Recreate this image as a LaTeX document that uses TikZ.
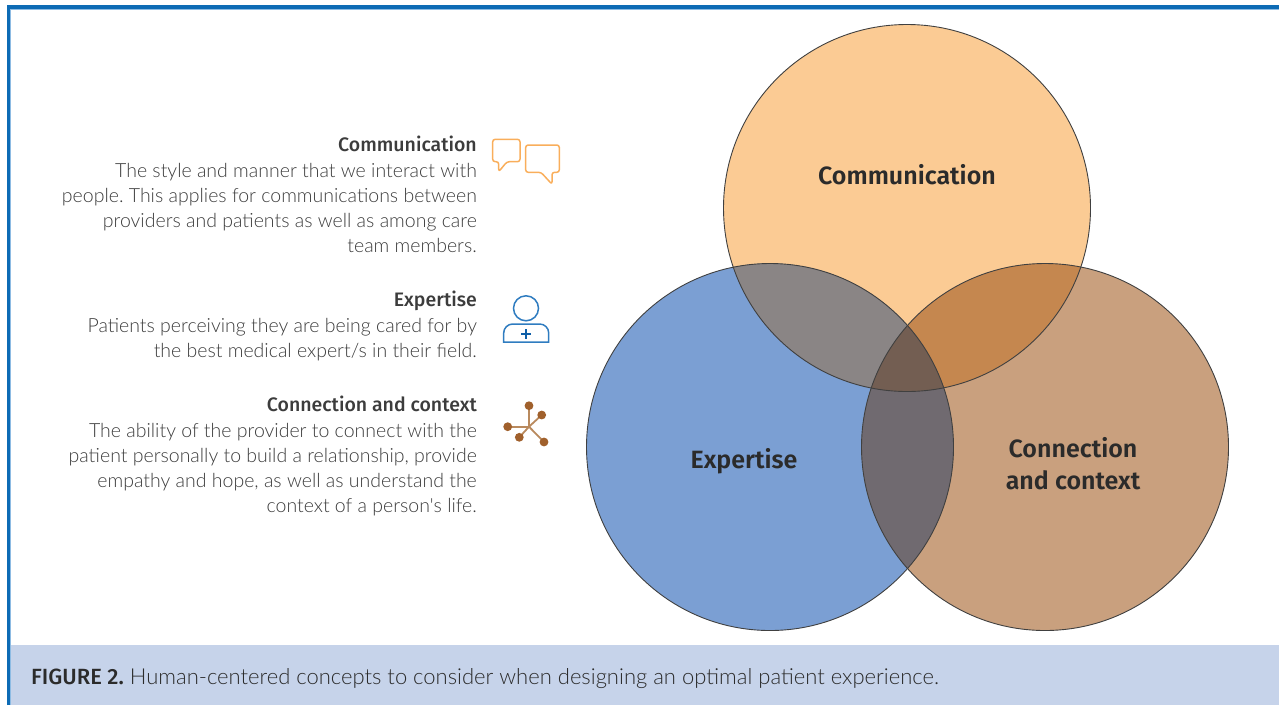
\documentclass[tikz,border=0pt]{standalone}
\usepackage{fontspec}
\setmainfont{Lato}
\newfontfamily\lightfont{Lato Light}
\newfontfamily\dinfont{Fira Sans Medium}
\newfontfamily\dinsemi{Fira Sans SemiBold}
\usetikzlibrary{calc,positioning}
\frenchspacing

\definecolor{frameBlue}{HTML}{0D6BB5}
\definecolor{frameLight}{HTML}{8DBBE3}
\definecolor{capBand}{HTML}{C6D3EA}
\definecolor{comFill}{HTML}{FBCB94}
\definecolor{expFill}{HTML}{7B9FD3}
\definecolor{conFill}{HTML}{C9A07E}
\definecolor{comExp}{HTML}{8A8585}
\definecolor{comCon}{HTML}{C5874F}
\definecolor{expCon}{HTML}{706A70}
\definecolor{allThree}{HTML}{735E52}
\definecolor{chatOrange}{HTML}{F9AE5B}
\definecolor{personBlue}{HTML}{2F7CC0}
\definecolor{plusBlue}{HTML}{0E5FA8}
\definecolor{netBrown}{HTML}{A0602C}
\definecolor{netLine}{HTML}{B98A5E}
\definecolor{textGray}{HTML}{3C3C3C}
\definecolor{labelDark}{HTML}{2B2B2B}

\tikzset{
  descText/.style={align=right, inner sep=0pt, text=textGray,
    font=\lightfont\fontsize{19.5}{25.3}\selectfont},
  vennLabel/.style={align=center, text=labelDark,
    font=\dinsemi\fontsize{25}{32}\selectfont},
  vennEdge/.style={draw=black!75, line width=0.9pt},
  netDot/.style={fill=netBrown, draw=none}
}

\begin{document}
\begin{tikzpicture}[x=1pt, y=-1pt]
        \useasboundingbox (0,0) rectangle (1279,705);
        % frame and caption band
        \fill[capBand] (10,645) rectangle (1279,705);
        \draw[frameBlue, line width=3.5pt] (8.5,705) -- (8.5,7) -- (1279,7);
        \draw[frameLight, line width=0.8pt] (10.6,705) -- (10.6,9.1) -- (1279,9.1);

        % venn circles
        \coordinate (cComPt) at (907,208);
        \coordinate (cExpPt) at (770,447);
        \coordinate (cConPt) at (1045,447);
        \def\vennR{183.5pt}
        \fill[comFill] (cComPt) circle[radius=\vennR];
        \fill[expFill] (cExpPt) circle[radius=\vennR];
        \fill[conFill] (cConPt) circle[radius=\vennR];
        \begin{scope}
            \clip (cComPt) circle[radius=\vennR];
            \fill[comExp] (cExpPt) circle[radius=\vennR];
            \fill[comCon] (cConPt) circle[radius=\vennR];
        \end{scope}
        \begin{scope}
            \clip (cExpPt) circle[radius=\vennR];
            \fill[expCon] (cConPt) circle[radius=\vennR];
            \clip (cConPt) circle[radius=\vennR];
            \fill[allThree] (cComPt) circle[radius=\vennR];
        \end{scope}
        \foreach \v in {cComPt, cExpPt, cConPt}
        {
            \draw[vennEdge] (\v) circle[radius=\vennR];
        };

        \node[vennLabel] (lCom) at (907,175) {Communication};
        \node[vennLabel] (lExp) at (744,461) {Expertise};
        \node[vennLabel] (lCon) at (1073,464) {Connection\\and context};

        % left text blocks
        \node[descText, anchor=north east] (tCom) at (477,136)
            {{\dinfont Communication}\\
             The style and manner that we interact with\\
             people. This applies for communications between\\
             providers and patients as well as among care\\
             team members.};
        \node[descText, anchor=north east] (tExp) at (477,291)
            {{\dinfont Expertise}\\
             Patients perceiving they are being cared for by\\
             the best medical expert/s in their field.};
        \node[descText, anchor=north east] (tCon) at (477,396)
            {{\dinfont Connection and context}\\
             The ability of the provider to connect with the\\
             patient personally to build a relationship, provide\\
             empathy and hope, as well as understand the\\
             context of a person's life.};

        % chat icon
        \draw[chatOrange, line width=1.5pt, rounded corners=2.5pt, line join=round]
            (492.7,139.3) -- (520,139.3) -- (520,161.7) -- (507,161.7)
            -- (498.7,171.7) -- (498.7,161.7) -- (492.7,161.7) -- cycle;
        \draw[chatOrange, line width=1.5pt, rounded corners=2.5pt, line join=round]
            (525.7,145) -- (559.3,145) -- (559.3,172.3) -- (552,172.3)
            -- (552,184.3) -- (541,172.3) -- (525.7,172.3) -- cycle;

        % person icon
        \draw[personBlue, line width=1.5pt] (526,308.3) circle[radius=12.5pt];
        \draw[personBlue, line width=1.5pt]
            (503.7,342) -- (503.7,333) arc[start angle=180, end angle=90, radius=9pt]
            -- (539.7,324) arc[start angle=90, end angle=0, radius=9pt] -- (548.7,342) -- cycle;
        \draw[plusBlue, line width=2pt] (521,334) -- (531,334) (526,329) -- (526,339);

        % network icon
        \coordinate (cHubPt) at (529,426.7);
        \foreach \v/\px/\py in
        {cNetA/529/405.7,
         cNetB/541.7/415,
         cNetC/507.7/426.7,
         cNetD/519.3/437.3,
         cNetE/544/442}
        {
            \coordinate (\v) at (\px,\py);
            \draw[netLine, line width=1.8pt] (cHubPt) -- (\v);
            \fill[netDot] (\v) circle (4.4pt);
        };

        % caption
        \node[anchor=base west, inner sep=0pt, text=labelDark,
              font=\lightfont\fontsize{22}{26}\selectfont] (tCap) at (31,684)
            {{\dinfont FIGURE 2.} Human-centered concepts to consider when designing an optimal patient experience.};
    \end{tikzpicture}
\end{document}
